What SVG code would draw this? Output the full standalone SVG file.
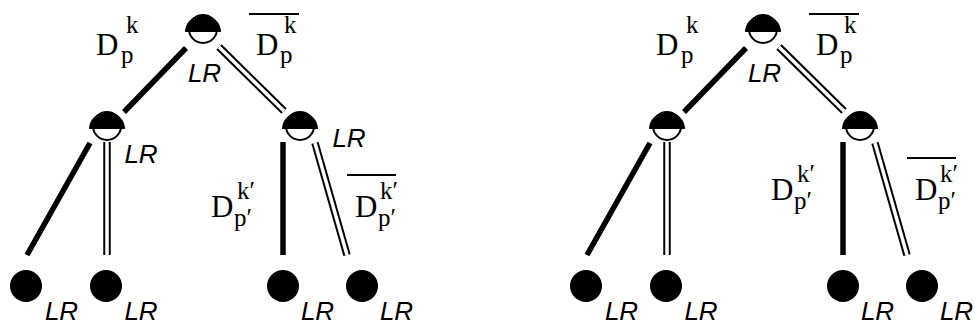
<svg xmlns="http://www.w3.org/2000/svg" xmlns:xlink="http://www.w3.org/1999/xlink" width="975" height="325" viewBox="0 0 975 325">
<style>
.lr{font-family:"Liberation Sans",Arial,sans-serif;font-style:italic;font-size:26px;fill:#000;text-anchor:middle}
.D{font-family:"Liberation Serif","Times New Roman",serif;font-size:31px;fill:#000}
.s{font-family:"Liberation Serif","Times New Roman",serif;font-size:25px;fill:#000}
.thick{stroke:#000;stroke-width:5.5;fill:none}
.dblo{stroke:#000;stroke-width:7.5;fill:none}
.dbli{stroke:#fff;stroke-width:3.5;fill:none}
.ov{stroke:#000;stroke-width:2}
</style>
<defs>
<g id="half">
<circle cx="0" cy="0" r="14" fill="#fff" stroke="#000" stroke-width="2"/>
<path d="M-18,3 A18,17 0 0 1 18,3 Z" fill="#000"/>
</g>
</defs>
<rect width="975" height="325" fill="#fff"/>
<g id="connectors">
<line class="thick" x1="186" y1="48" x2="124" y2="112"/>
<line class="dblo" x1="219" y1="47" x2="284" y2="111"/>
<line class="dbli" x1="219" y1="47" x2="284" y2="111"/>
<line class="thick" x1="90" y1="143" x2="27" y2="255"/>
<line class="dblo" x1="107" y1="142" x2="107" y2="255"/>
<line class="dbli" x1="107" y1="142" x2="107" y2="255"/>
<line class="thick" x1="283" y1="142" x2="283" y2="255"/>
<line class="dblo" x1="315" y1="143" x2="347" y2="255"/>
<line class="dbli" x1="315" y1="143" x2="347" y2="255"/>
<line class="thick" x1="746" y1="48" x2="684" y2="112"/>
<line class="dblo" x1="779" y1="47" x2="844" y2="111"/>
<line class="dbli" x1="779" y1="47" x2="844" y2="111"/>
<line class="thick" x1="650" y1="143" x2="587" y2="255"/>
<line class="dblo" x1="667" y1="142" x2="667" y2="255"/>
<line class="dbli" x1="667" y1="142" x2="667" y2="255"/>
<line class="thick" x1="843" y1="142" x2="843" y2="255"/>
<line class="dblo" x1="875" y1="143" x2="907" y2="255"/>
<line class="dbli" x1="875" y1="143" x2="907" y2="255"/>
</g>
<g id="L-root"><use xlink:href="#half" x="203" y="29"/><text class="lr" x="204.5" y="82">LR</text></g>
<g id="L-midL"><use xlink:href="#half" x="107" y="126"/><text class="lr" x="141" y="163">LR</text></g>
<g id="L-midR"><use xlink:href="#half" x="300" y="126"/><text class="lr" x="349" y="147">LR</text></g>
<g id="L-leaf1"><circle cx="26" cy="286" r="16"/><text class="lr" x="61.5" y="320">LR</text></g>
<g id="L-leaf2"><circle cx="106" cy="286" r="16"/><text class="lr" x="141" y="320">LR</text></g>
<g id="L-leaf3"><circle cx="283" cy="286" r="16"/><text class="lr" x="317.5" y="320">LR</text></g>
<g id="L-leaf4"><circle cx="362" cy="286" r="16"/><text class="lr" x="396.5" y="320">LR</text></g>
<g id="L-labels">
<text class="D" x="96" y="55">D</text><text class="s" x="126" y="33">k</text><text class="s" x="121" y="63">p</text>
<line class="ov" x1="249" y1="14" x2="299" y2="14"/>
<text class="D" x="256" y="55">D</text><text class="s" x="284" y="33">k</text><text class="s" x="280" y="63">p</text>
<text class="D" x="211" y="217">D</text><text class="s" x="237" y="199">k′</text><text class="s" x="234" y="226">p′</text>
<line class="ov" x1="347" y1="175" x2="396" y2="175"/>
<text class="D" x="355" y="217">D</text><text class="s" x="380" y="199">k′</text><text class="s" x="378" y="226">p′</text>
</g>
<g id="R-root"><use xlink:href="#half" x="763" y="29"/><text class="lr" x="764.5" y="82">LR</text></g>
<g id="R-midL"><use xlink:href="#half" x="667" y="126"/></g>
<g id="R-midR"><use xlink:href="#half" x="860" y="126"/></g>
<g id="R-leaf1"><circle cx="586" cy="286" r="16"/><text class="lr" x="621.5" y="320">LR</text></g>
<g id="R-leaf2"><circle cx="666" cy="286" r="16"/><text class="lr" x="701" y="320">LR</text></g>
<g id="R-leaf3"><circle cx="843" cy="286" r="16"/><text class="lr" x="877.5" y="320">LR</text></g>
<g id="R-leaf4"><circle cx="922" cy="286" r="16"/><text class="lr" x="956.5" y="320">LR</text></g>
<g id="R-labels">
<text class="D" x="656" y="55">D</text><text class="s" x="686" y="33">k</text><text class="s" x="681" y="63">p</text>
<line class="ov" x1="809" y1="14" x2="859" y2="14"/>
<text class="D" x="816" y="55">D</text><text class="s" x="844" y="33">k</text><text class="s" x="840" y="63">p</text>
<text class="D" x="771" y="200">D</text><text class="s" x="797" y="182">k′</text><text class="s" x="794" y="209">p′</text>
<line class="ov" x1="907" y1="158" x2="956" y2="158"/>
<text class="D" x="915" y="200">D</text><text class="s" x="940" y="182">k′</text><text class="s" x="938" y="209">p′</text>
</g>
</svg>
